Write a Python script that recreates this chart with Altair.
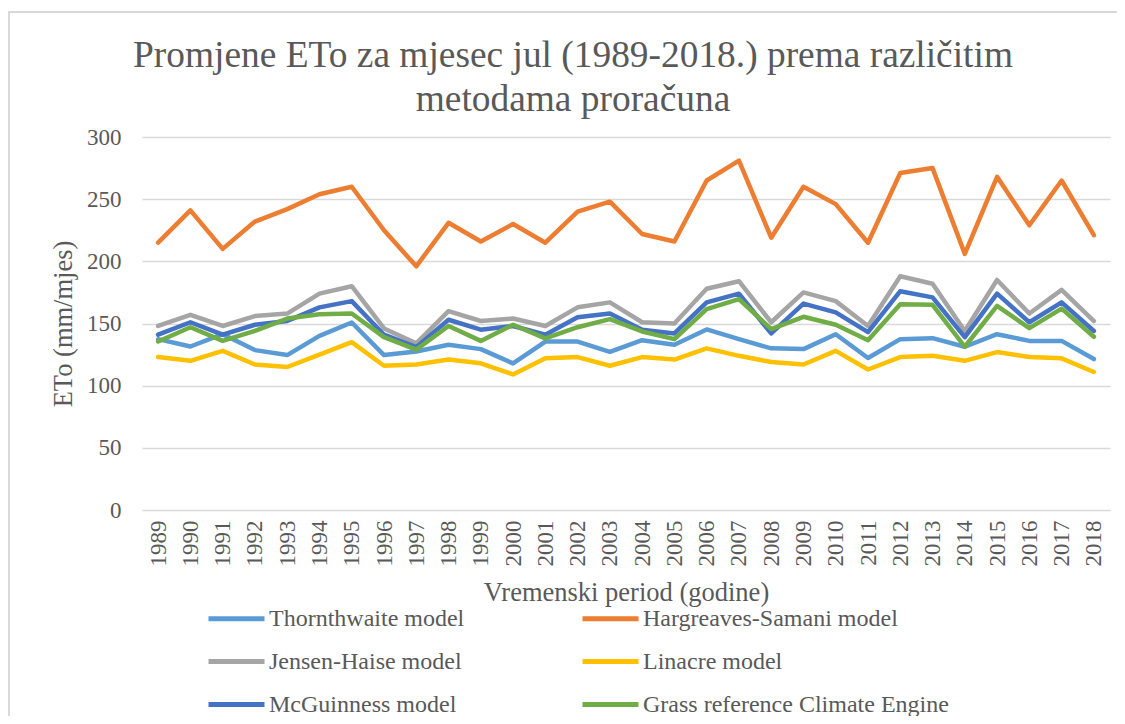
import altair as alt
import pandas as pd

years = list(range(1989, 2019))

thornthwaite = [137.4, 131.5, 141.4, 128.6, 124.6, 140.0, 150.8, 124.6, 127.5, 132.9,
                129.4, 117.9, 135.5, 135.5, 127.2, 136.6, 132.9, 145.2, 137.4, 130.0,
                129.4, 141.4, 122.2, 137.4, 138.2, 131.3, 141.4, 136.0, 136.0, 121.4]
hargreaves = [215, 241, 210, 232, 242, 254, 260, 225, 196, 231,
              216, 230, 215, 240, 248, 222, 216, 265, 281, 219,
              260, 246, 215, 271, 275, 206, 268, 229, 265, 221]
jensen = [148, 157, 148, 156, 158, 174, 180, 146, 134, 160,
          152, 154, 148, 163, 167, 151, 150, 178, 184, 151,
          175, 168, 148, 188, 182, 144, 185, 158, 177, 152]
linacre = [123, 120, 128, 117, 115, 125, 135, 116, 117, 121,
           118, 109, 122, 123, 116, 123, 121, 130, 124, 119,
           117, 128, 113, 123, 124, 120, 127, 123, 122, 111]
mcguinness = [141, 151, 141, 149, 152, 163, 168, 141, 131, 153,
              145, 148, 141, 155, 158, 145, 142, 167, 174, 142,
              166, 159, 143, 176, 171, 139, 174, 151, 167, 144]
grass = [135.5, 147, 136, 144, 154, 157.5, 158, 139, 129, 148,
         136, 149, 138, 147, 153.5, 143.6, 137.4, 161.5, 169.6, 145.5,
         155.4, 149, 136.6, 165.5, 165, 131.3, 164.2, 146.3, 162, 139.3]

series_names = ["Thornthwaite model", "Hargreaves-Samani model", "Jensen-Haise model",
                "Linacre model", "McGuinness model", "Grass reference Climate Engine"]
series_values = [thornthwaite, hargreaves, jensen, linacre, mcguinness, grass]
colors = ["#5B9BD5", "#ED7D31", "#A5A5A5", "#FFC000", "#4472C4", "#70AD47"]

rows = []
for name, vals in zip(series_names, series_values):
    for y, v in zip(years, vals):
        rows.append({"year": str(y), "series": name, "value": v})
df = pd.DataFrame(rows)

FONT = "Liberation Serif"
TXT = "#595959"
GRID = "#D9D9D9"

W, H = 968, 373

color = alt.Color(
    "series:N",
    scale=alt.Scale(domain=series_names, range=colors),
    legend=alt.Legend(
        title=None, orient="none", legendX=64, legendY=451, columns=2,
        direction="horizontal",
        symbolType="stroke", symbolSize=3136, symbolStrokeWidth=5,
        labelFont=FONT, labelFontSize=24, labelColor=TXT, labelOffset=2,
        columnPadding=107, rowPadding=-14, labelLimit=400,
    ),
)

x = alt.X(
    "year:O",
    scale=alt.Scale(padding=0.5),
    axis=alt.Axis(
        title="Vremenski period (godine)", labelAngle=270, labelAlign="right",
        labelBaseline="middle", labelPadding=10, ticks=False, domain=False,
        labelFont=FONT, labelFontSize=23, labelColor=TXT,
        titleFont=FONT, titleFontSize=26.5, titleColor=TXT, titleFontWeight="normal",
        titlePadding=13,
    ),
)
y = alt.Y(
    "value:Q",
    scale=alt.Scale(domain=[0, 300], nice=False),
    axis=alt.Axis(
        title="ETo (mm/mjes)", values=[0, 50, 100, 150, 200, 250, 300],
        ticks=False, domain=False, labelPadding=21, gridColor=GRID, gridWidth=1.5,
        labelFont=FONT, labelFontSize=23, labelColor=TXT,
        titleFont=FONT, titleFontSize=26.5, titleColor=TXT, titleFontWeight="normal",
        titlePadding=9,
    ),
)

layers = []
for name in series_names:
    layers.append(
        alt.Chart(df).transform_filter(alt.datum.series == name)
        .mark_line(strokeWidth=4.5, strokeCap="round", strokeJoin="round")
        .encode(x=x, y=y, color=color)
    )

frame = alt.Chart(alt.Data(values=[{"a": 1}]))
left_border = frame.mark_rule(color=GRID, strokeWidth=2).encode(
    x=alt.value(-133), y=alt.value(-126), y2=alt.value(H + 210))
top_border = frame.mark_rule(color=GRID, strokeWidth=2).encode(
    x=alt.value(-134), x2=alt.value(W + 20), y=alt.value(-125))

chart = alt.layer(left_border, top_border, *layers).properties(
    width=W, height=H,
    autosize=alt.AutoSizeParams(type="none"),
    padding={"left": 134, "top": 129, "right": 7, "bottom": 206},
    title=alt.TitleParams(
        text=["Promjene ETo za mjesec jul (1989-2018.) prema različitim", "metodama proračuna"],
        font=FONT, fontSize=37.4, color=TXT, fontWeight="normal", anchor="middle",
        dx=-53, offset=0, dy=108, lineHeight=44,
    ),
).configure(background="white", font=FONT).configure_view(stroke=None).configure_legend(
    labelFont=FONT
)

chart.save("out.html", embed_options={"renderer": "svg", "actions": False})
